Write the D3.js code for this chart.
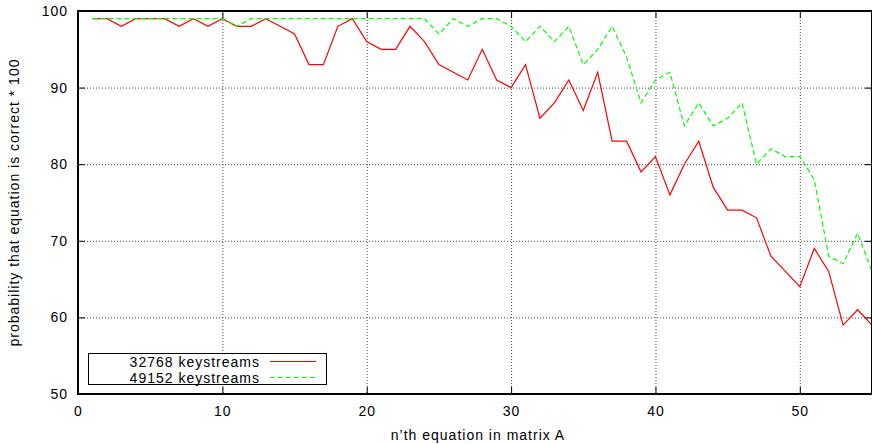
<!DOCTYPE html>
<html>
<head>
<meta charset="utf-8">
<script src="https://cdn.jsdelivr.net/npm/d3@7"></script>
<style>
  body { margin: 0; background: #fff; }
  svg { display: block; font-family: "Liberation Sans", Arial, sans-serif; }
  .tick-label, .axis-label, .legend-text { font-size: 14px; letter-spacing: 1px; fill: #000; }
  .grid line { stroke: #444; stroke-width: 1; stroke-dasharray: 1,2; }
</style>
</head>
<body>
<svg id="chart"></svg>
<script>
const equations = d3.range(1, 56);

const keystreams32768 = [
  99, 99, 98, 99, 99, 99, 98, 99, 98, 99,
  98, 98, 99, 98, 97, 93, 93, 98, 99, 96,
  95, 95, 98, 96, 93, 92, 91, 95, 91, 90,
  93, 86, 88, 91, 87, 92, 83, 83, 79, 81,
  76, 80, 83, 77, 74, 74, 73, 68, 66, 64,
  69, 66, 59, 61, 59
];

const keystreams49152 = [
  99, 99, 99, 99, 99, 99, 99, 99, 99, 99,
  98, 99, 99, 99, 99, 99, 99, 99, 99, 99,
  99, 99, 99, 99, 97, 99, 98, 99, 99, 98,
  96, 98, 96, 98, 93, 95, 98, 94, 88, 91,
  92, 85, 88, 85, 86, 88, 80, 82, 81, 81,
  78, 68, 67, 71, 66
];

const xTicks = [0, 10, 20, 30, 40, 50];
const yTicks = [50, 60, 70, 80, 90, 100];

const seriesNames = ['32768 keystreams', '49152 keystreams'];
const seriesColors = ['#ff0000', '#00ff00'];
const seriesDashes = ['none', '5,3'];

const chartSize = {width: 872, height: 444};
const margin = {left: 78, right: 0, top: 11, bottom: 50};
const width = chartSize.width - margin.left - margin.right;
const height = chartSize.height - margin.top - margin.bottom;
const tickLength = 7;

const svg = d3.select('#chart')
    .attr('width', chartSize.width)
    .attr('height', chartSize.height);

const x = d3.scaleLinear().domain([0, 55]).range([margin.left, margin.left + width]);
const y = d3.scaleLinear().domain([50, 100]).range([margin.top + height, margin.top]);

// dotted grid, skipping lines that sit on the border
const grid = svg.append('g').attr('class', 'grid');
grid.selectAll('.vgrid')
    .data(xTicks.filter(t => t > 0))
    .join('line')
    .attr('x1', d => x(d) + 0.5).attr('x2', d => x(d) + 0.5)
    .attr('y1', y(100)).attr('y2', y(50));
grid.selectAll('.hgrid')
    .data(yTicks.filter(t => t > 50 && t < 100))
    .join('line')
    .attr('x1', x(0)).attr('x2', x(55))
    .attr('y1', d => y(d) + 0.5).attr('y2', d => y(d) + 0.5);

// ticks on all four sides, pointing inward
const ticks = svg.append('g').attr('stroke', '#000').attr('stroke-width', 1);
xTicks.forEach(t => {
  ticks.append('line').attr('x1', x(t) + 0.5).attr('x2', x(t) + 0.5)
      .attr('y1', y(50)).attr('y2', y(50) - tickLength);
  ticks.append('line').attr('x1', x(t) + 0.5).attr('x2', x(t) + 0.5)
      .attr('y1', y(100)).attr('y2', y(100) + tickLength);
});
yTicks.forEach(t => {
  ticks.append('line').attr('x1', x(0)).attr('x2', x(0) + tickLength)
      .attr('y1', y(t) + 0.5).attr('y2', y(t) + 0.5);
  ticks.append('line').attr('x1', x(55)).attr('x2', x(55) - tickLength)
      .attr('y1', y(t) + 0.5).attr('y2', y(t) + 0.5);
});

svg.selectAll('.x-label')
    .data(xTicks)
    .join('text')
    .attr('class', 'tick-label')
    .attr('x', d => x(d) + 0.5)
    .attr('y', y(50) + 22)
    .attr('text-anchor', 'middle')
    .text(d => d);

svg.selectAll('.y-label')
    .data(yTicks)
    .join('text')
    .attr('class', 'tick-label')
    .attr('x', x(0) - 10)
    .attr('y', d => y(d) + 5)
    .attr('text-anchor', 'end')
    .text(d => d);

// the two series
const line = d3.line()
    .x((d, i) => x(equations[i]))
    .y(d => y(d));

const plot = svg.append('g');
[keystreams32768, keystreams49152].forEach((values, i) => {
  plot.append('path')
      .attr('d', line(values))
      .style('fill', 'none')
      .style('stroke', seriesColors[i])
      .style('stroke-width', 1.2)
      .style('stroke-dasharray', seriesDashes[i]);
});

// border box
svg.append('rect')
    .attr('x', x(0)).attr('y', y(100))
    .attr('width', x(55) - x(0)).attr('height', y(50) - y(100))
    .attr('fill', 'none')
    .attr('stroke', '#000')
    .attr('stroke-width', 2);

svg.append('text')
    .attr('class', 'axis-label')
    .attr('x', x(27.5) + 3)
    .attr('y', 440)
    .attr('text-anchor', 'middle')
    .text('n’th equation in matrix A');

svg.append('text')
    .attr('class', 'axis-label')
    .attr('transform', `translate(19,${(y(50) + y(100)) / 2}) rotate(-90)`)
    .attr('text-anchor', 'middle')
    .text('probability that equation is correct * 100');

// legend
const legend = svg.append('g');
legend.append('rect')
    .attr('x', 88.5).attr('y', 353.5)
    .attr('width', 238).attr('height', 31)
    .style('fill', '#fff')
    .style('stroke', '#000')
    .style('stroke-width', 1);

seriesNames.forEach((name, i) => {
  const rowY = 361.5 + i * 16;
  legend.append('text')
      .attr('class', 'legend-text')
      .attr('x', 260)
      .attr('y', rowY + 5)
      .attr('text-anchor', 'end')
      .text(name);
  legend.append('path')
      .attr('d', `M270,${rowY}H316`)
      .style('fill', 'none')
      .style('stroke', seriesColors[i])
      .style('stroke-width', 1.2)
      .style('stroke-dasharray', seriesDashes[i]);
});
</script>
</body>
</html>
